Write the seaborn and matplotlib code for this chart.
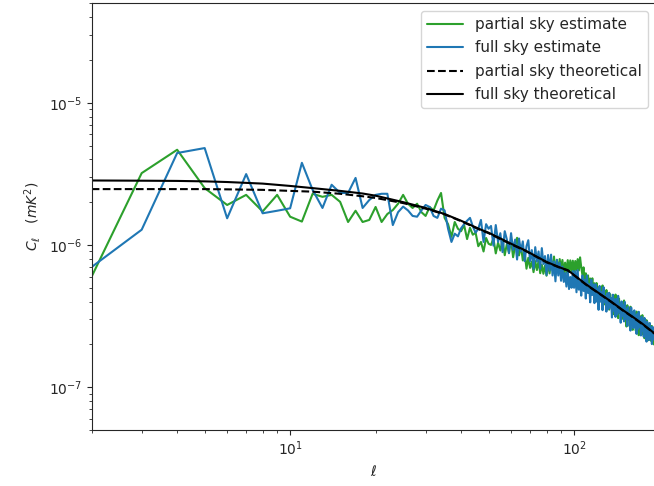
import numpy as np
import pandas as pd
import matplotlib
matplotlib.use("Agg")
import matplotlib.pyplot as plt
import seaborn as sns

# Multipoles of the angular power spectrum estimates
ell = list(range(2, 193))

# Angular power spectrum estimates, in units of 1e-6 mK^2 (ell = 2 ... 192)
cl_partial_est = [
    0.60, 3.2, 4.67, 2.51, 1.91, 2.25, 1.72, 2.25, 1.58,              # 2-10
    1.46, 2.29, 2.18, 2.25, 2.01, 1.45, 1.74, 1.45, 1.50, 1.85,        # 11-20
    1.45, 1.65, 1.76, 1.95, 2.25, 1.95, 1.82, 1.95, 1.70, 1.60,        # 21-30
    1.85, 1.75, 2.05, 2.32, 1.55, 1.40, 1.14, 1.45, 1.30, 1.25,        # 31-40
    1.38, 1.10, 1.32, 1.18, 1.22, 0.98, 1.05, 0.90, 1.12, 1.02,        # 41-50
    1.00, 1.114, 0.872, 1.04, 0.914, 1.09, 0.847, 1.018, 0.882, 1.093,  # 51-60
    0.82, 0.982, 1.123, 0.845, 0.988, 0.778, 0.883, 0.681, 0.812, 0.69,  # 61-70
    0.764, 0.644, 0.77, 0.666, 0.774, 0.633, 0.726, 0.627, 0.716, 0.608,  # 71-80
    0.746, 0.631, 0.789, 0.664, 0.829, 0.623, 0.787, 0.646, 0.796, 0.679,  # 81-90
    0.784, 0.626, 0.751, 0.638, 0.782, 0.645, 0.779, 0.655, 0.775, 0.645,  # 91-100
    0.771, 0.664, 0.795, 0.662, 0.818, 0.698, 0.617, 0.696, 0.556, 0.632,  # 101-110
    0.534, 0.611, 0.489, 0.581, 0.494, 0.583, 0.459, 0.538, 0.432, 0.54,  # 111-120
    0.445, 0.499, 0.399, 0.502, 0.411, 0.519, 0.43, 0.473, 0.379, 0.482,  # 121-130
    0.391, 0.433, 0.351, 0.451, 0.37, 0.423, 0.325, 0.421, 0.349, 0.448,  # 131-140
    0.359, 0.398, 0.306, 0.42, 0.334, 0.378, 0.30, 0.393, 0.305, 0.407,   # 141-150
    0.321, 0.357, 0.267, 0.377, 0.30, 0.349, 0.268, 0.368, 0.294, 0.326,  # 151-160
    0.253, 0.341, 0.269, 0.331, 0.25, 0.34, 0.27, 0.31, 0.232, 0.319,     # 161-170
    0.256, 0.304, 0.233, 0.321, 0.256, 0.285, 0.221, 0.293, 0.234, 0.296,  # 171-180
    0.239, 0.275, 0.214, 0.282, 0.227, 0.269, 0.211, 0.269, 0.223, 0.249,  # 181-190
    0.20, 0.251,                                                           # 191-192
]

cl_full_est = [
    0.70, 1.28, 4.43, 4.80, 1.54, 3.15, 1.67, 1.74, 1.81,              # 2-10
    3.78, 2.44, 1.82, 2.65, 2.32, 2.32, 2.96, 1.82, 2.07, 2.25,        # 11-20
    2.29, 2.29, 1.38, 1.70, 1.86, 1.75, 1.60, 1.58, 1.75, 1.91,        # 21-30
    1.85, 1.60, 1.55, 1.80, 1.75, 1.30, 1.05, 1.20, 1.15, 1.31,        # 31-40
    1.40, 1.48, 1.55, 1.35, 1.22, 1.30, 1.50, 1.05, 1.40, 1.30,        # 41-50
    1.36, 0.99, 1.38, 1.05, 1.21, 0.89, 1.25, 1.09, 0.875, 1.21,       # 51-60
    0.925, 1.09, 0.79, 1.11, 0.90, 1.06, 0.77, 0.98, 1.08, 0.77,       # 61-70
    0.92, 0.68, 0.965, 0.765, 0.90, 0.68, 0.95, 0.735, 0.835, 0.615,   # 71-80
    0.85, 0.66, 0.855, 0.61, 0.765, 0.555, 0.785, 0.61, 0.75, 0.56,    # 81-90
    0.705, 0.55, 0.635, 0.51, 0.665, 0.49, 0.595, 0.50, 0.655, 0.50,   # 91-100
    0.655, 0.465, 0.665, 0.485, 0.555, 0.44, 0.61, 0.475, 0.57, 0.42,  # 101-110
    0.61, 0.46, 0.53, 0.395, 0.57, 0.445, 0.527, 0.39, 0.53, 0.40,     # 111-120
    0.495, 0.35, 0.515, 0.40, 0.467, 0.348, 0.505, 0.395, 0.438, 0.34,  # 121-130
    0.457, 0.354, 0.461, 0.364, 0.424, 0.309, 0.447, 0.345, 0.415, 0.312,  # 131-140
    0.417, 0.325, 0.439, 0.337, 0.38, 0.284, 0.401, 0.317, 0.376, 0.29,  # 141-150
    0.397, 0.302, 0.356, 0.27, 0.366, 0.301, 0.334, 0.25, 0.363, 0.274,  # 151-160
    0.337, 0.26, 0.347, 0.275, 0.317, 0.237, 0.327, 0.257, 0.339, 0.267,  # 161-170
    0.296, 0.231, 0.313, 0.249, 0.299, 0.226, 0.307, 0.243, 0.28, 0.209,  # 171-180
    0.289, 0.227, 0.275, 0.215, 0.282, 0.232, 0.258, 0.201, 0.266, 0.217,  # 181-190
    0.254, 0.215,                                                          # 191-192
]

# Theoretical spectra, in units of 1e-6 mK^2
ell_th = [2, 3, 4, 5, 6, 8, 10, 12, 15, 18, 20, 25, 30, 35, 40, 47, 50, 60,
          67, 80, 90, 95, 100, 110, 122, 135, 148, 160, 175, 192]
cl_partial_th = [2.47, 2.47, 2.47, 2.47, 2.46, 2.44, 2.40, 2.37, 2.29, 2.20,
                 2.14, 1.97, 1.80, 1.64, 1.47, 1.27, 1.21, 1.01, 0.915, 0.755,
                 0.686, 0.662, 0.612, 0.527, 0.458, 0.398, 0.348, 0.313,
                 0.275, 0.238]
cl_full_th = [2.84, 2.83, 2.82, 2.80, 2.77, 2.70, 2.60, 2.51, 2.40, 2.30,
              2.22, 2.00, 1.82, 1.65, 1.48, 1.28, 1.22, 1.02, 0.92, 0.76,
              0.69, 0.665, 0.615, 0.53, 0.46, 0.40, 0.35, 0.315, 0.277, 0.239]

unit = 1e-6
est = pd.DataFrame({
    "ell": ell,
    "partial": np.array(cl_partial_est) * unit,
    "full": np.array(cl_full_est) * unit,
})
th = pd.DataFrame({
    "ell": ell_th,
    "partial": np.array(cl_partial_th) * unit,
    "full": np.array(cl_full_th) * unit,
})

sns.set_style("ticks")
plt.rcParams["font.family"] = ["DejaVu Sans"]

fig = plt.figure(figsize=(6.54, 4.86), dpi=100)
ax = fig.add_axes([0.1402, 0.1152, 0.862, 0.878])

sns.lineplot(data=est, x="ell", y="partial", color="#2ca02c", lw=1.5,
             label="partial sky estimate", ax=ax)
sns.lineplot(data=est, x="ell", y="full", color="#1f77b4", lw=1.5,
             label="full sky estimate", ax=ax)
sns.lineplot(data=th, x="ell", y="partial", color="black", lw=1.5,
             linestyle="--", label="partial sky theoretical", ax=ax)
sns.lineplot(data=th, x="ell", y="full", color="black", lw=1.5,
             label="full sky theoretical", ax=ax)

ax.set_xscale("log")
ax.set_yscale("log")
ax.set_xlim(2, 193.5)
ax.set_ylim(5e-8, 5e-5)
ax.set_xlabel(r"$\ell$")
ax.set_ylabel(r"$C_\ell\ \ \ (mK^2)$")
ax.legend(loc="upper right", fontsize=11, frameon=True,
          handlelength=2.3, labelspacing=0.55)

fig.savefig("out.png", dpi=100)
